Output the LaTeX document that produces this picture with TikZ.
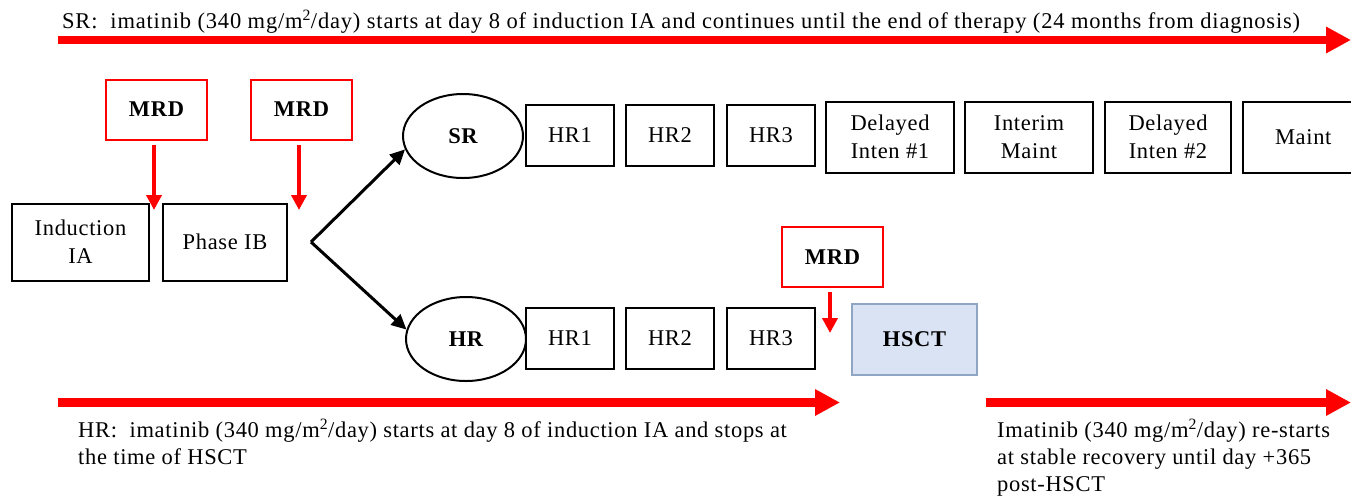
\documentclass[tikz,border=0pt]{standalone}
\usepackage{fontspec}
\setmainfont{Liberation Serif}[LetterSpace=3]
\usetikzlibrary{arrows.meta,shapes.geometric}
\definecolor{hsctfill}{RGB}{218,227,243}
\definecolor{hsctdraw}{RGB}{143,165,196}
\tikzset{
  lbl/.style={font=\fontsize{22.5}{28}\selectfont},
  box/.style={draw=black,line width=2pt,rectangle,align=center,inner sep=0pt,lbl},
  mrdbox/.style={draw=red,line width=2pt,rectangle,minimum width=101pt,minimum height=60pt,inner sep=0pt,font=\fontsize{22.5}{28}\selectfont\bfseries},
  oval/.style={draw=black,line width=2pt,ellipse,minimum width=120pt,minimum height=84pt,inner sep=0pt,font=\fontsize{22.5}{28}\selectfont\bfseries},
  redarr/.style={draw=red,line width=4.5pt,-{Triangle[length=15pt,width=15pt]},red},
  bigarr/.style={draw=red,line width=8.5pt,-{Triangle[length=25pt,width=25pt]},red},
  blkarr/.style={draw=black,line width=3pt,-{Triangle[length=15pt,width=14pt]}},
  txt/.style={inner sep=0pt,align=left,font=\fontsize{22.5}{27}\selectfont}
}
\begin{document}
\begin{tikzpicture}[x=1pt,y=-1pt]
\useasboundingbox (0,0) rectangle (1351,499);
% top text and arrow
\node[txt,anchor=base west] (srtxt) at (62,28) {\addfontfeature{LetterSpace=3.6}SR:~~imatinib (340 mg/m\textsuperscript{2}/day) starts at day 8 of induction IA and continues until the end of therapy (24 months from diagnosis)};
\coordinate (topS) at (58,40);
\coordinate (topE) at (1351,40);
\draw[bigarr] (topS) -- (topE);
% MRD boxes
\node[mrdbox] (mrd1) at (156.5,109.5) {MRD};
\node[mrdbox] (mrd2) at (301.5,109.5) {MRD};
% induction
\node[box,minimum width=137pt,minimum height=77pt] (ind) at (80.5,242) {Induction\\IA};
\node[box,minimum width=124pt,minimum height=77pt] (pib) at (225,242) {Phase IB};
\coordinate (m1end) at (154,210);
\coordinate (m2end) at (299,210);
\draw[redarr,shorten <=4pt] (m1end |- mrd1.south) -- (m1end);
\draw[redarr,shorten <=4pt] (m2end |- mrd2.south) -- (m2end);
% branch
\node[oval] (sr) at (463,136) {SR};
\node[oval] (hr) at (466,339) {HR};
\coordinate (v) at (311,242);
\draw[blkarr] (v) -- (sr.193);
\draw[blkarr] (v) -- (hr.171);
% SR row
\node[box,minimum width=88pt,minimum height=61pt] (s1) at (570,135.5) {HR1};
\node[box,minimum width=88pt,minimum height=61pt] (s2) at (670,135.5) {HR2};
\node[box,minimum width=88pt,minimum height=61pt] (s3) at (771,135.5) {HR3};
\node[box,minimum width=128pt,minimum height=71pt] (di1) at (890,137) {Delayed\\Inten \#1};
\node[box,minimum width=128pt,minimum height=71pt] (im) at (1029,137) {Interim\\Maint};
\node[box,minimum width=126pt,minimum height=71pt] (di2) at (1168,137) {Delayed\\Inten \#2};
\node[box,minimum width=128pt,minimum height=71pt,text width=108pt,align=left] (mt) at (1307,137) {\hspace*{22pt}Maint};
% HR row
\node[box,minimum width=88pt,minimum height=61pt] (h1) at (570,338) {HR1};
\node[box,minimum width=88pt,minimum height=61pt] (h2) at (670,338) {HR2};
\node[box,minimum width=88pt,minimum height=61pt] (h3) at (771,338) {HR3};
\node[box,draw=hsctdraw,fill=hsctfill,minimum width=125pt,minimum height=71pt,font=\fontsize{22.5}{28}\selectfont\bfseries] (hsct) at (914.5,339.5) {HSCT};
\node[mrdbox] (mrd3) at (832.5,257) {MRD};
\coordinate (m3end) at (830,333);
\draw[redarr,shorten <=4pt] (m3end |- mrd3.south) -- (m3end);
% bottom arrows
\coordinate (hrS) at (58,402.5);
\coordinate (hrE) at (840,402.5);
\draw[bigarr] (hrS) -- (hrE);
\coordinate (rS) at (986,402.5);
\coordinate (rE) at (1351,402.5);
\draw[bigarr] (rS) -- (rE);
\node[txt,anchor=north west] (hrtxt) at (78,419) {HR:~~imatinib (340 mg/m\textsuperscript{2}/day) starts at day 8 of induction IA and stops at\\the time of HSCT};
\node[txt,anchor=north west] (rtxt) at (997,419) {Imatinib (340 mg/m\textsuperscript{2}/day) re-starts\\at stable recovery until day +365\\post-HSCT};
\end{tikzpicture}
\end{document}
